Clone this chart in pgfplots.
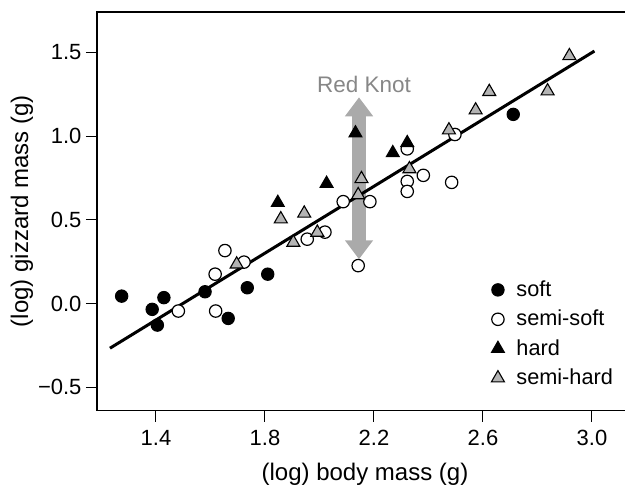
\documentclass[border=0pt]{standalone}
\usepackage{fontspec}
\setmainfont{Liberation Sans}
\usepackage{pgfplots}
\pgfplotsset{compat=1.18}
\usetikzlibrary{arrows.meta}
\definecolor{semihard}{RGB}{180,180,180}
\definecolor{knotarrow}{RGB}{170,170,170}
\definecolor{knottext}{RGB}{135,135,135}
\begin{document}
\begin{tikzpicture}
\useasboundingbox (0,0) rectangle (625bp,486bp);
\begin{axis}[
  at={(97bp,75.3bp)}, anchor=south west,
  scale only axis, width=536bp, height=399bp,
  xmin=1.1835, xmax=3.1505, ymin=-0.639, ymax=1.743,
  axis line style={line width=1.4bp},
  xtick={1.4,1.8,2.2,2.6,3.0}, xticklabels={1.4,1.8,2.2,2.6,3.0},
  ytick={-0.5,0,0.5,1,1.5}, yticklabels={−0.5,0.0,0.5,1.0,1.5},
  tick align=outside, xtick pos=bottom, ytick pos=left,
  major tick length=11bp,
  tick style={line width=1bp, black},
  ticklabel style={font=\fontsize{22bp}{26bp}\selectfont},
  xticklabel style={yshift=-5bp},
  yticklabel style={xshift=-1bp},
  xlabel={(log) body mass (g)}, ylabel={(log) gizzard mass (g)},
  label style={font=\fontsize{24bp}{28bp}\selectfont},
  xlabel style={at={(axis description cs:0.5,-0.1587)}, anchor=center},
  ylabel style={at={(axis description cs:-0.1399,0.5)}, anchor=center},
  legend style={draw=none, fill=none, at={(axis cs:2.631,0.170)}, anchor=north west,
    inner sep=0pt, outer sep=0pt, row sep=0pt, column sep=12bp,
    font=\fontsize{21.7bp}{26bp}\selectfont,
    nodes={inner sep=0pt, text height=21.2bp, text depth=8.2bp}},
  legend cell align=left,
  legend image code/.code={\draw[#1] plot coordinates {(0bp,0bp)};},
]
% Red Knot arrow
\addplot[knotarrow, line width=14bp, mark=none, forget plot,
  {Triangle[width=27bp,length=19bp]}-{Triangle[width=27bp,length=19bp]}]
  coordinates {(2.145,0.265) (2.145,1.232)};
% regression line
\addplot[black, line width=3bp, mark=none, forget plot]
  coordinates {(1.231,-0.266) (3.009,1.508)};
% soft
\addplot[only marks, mark=*, mark size=6.2bp, mark options={fill=black, draw=black, line width=1bp}]
  coordinates {(1.274,0.045) (1.386,-0.034) (1.429,0.036) (1.405,-0.128) (1.580,0.071)
  (1.665,-0.088) (1.735,0.095) (1.810,0.176) (2.711,1.130)};
\addlegendentry{soft}
% semi-soft
\addplot[only marks, mark=*, mark size=6.2bp, mark options={fill=white, draw=black, line width=1.2bp}]
  coordinates {(1.482,-0.044) (1.617,0.176) (1.653,0.317) (1.619,-0.044) (1.723,0.248)
  (1.955,0.385) (2.020,0.427) (2.087,0.609) (2.142,0.227) (2.185,0.609)
  (2.322,0.924) (2.322,0.730) (2.322,0.670) (2.381,0.766) (2.485,0.724) (2.497,1.010)};
\addlegendentry{semi-soft}
% hard
\addplot[only marks, mark=triangle*, mark size=7.5bp, mark options={fill=black, draw=black, line width=1bp}]
  coordinates {(1.847,0.603) (2.026,0.717) (2.132,1.018) (2.269,0.900) (2.322,0.960)};
\addlegendentry{hard}
% semi-hard
\addplot[only marks, mark=triangle*, mark size=7.5bp, mark options={fill=semihard, draw=black, line width=1.1bp}]
  coordinates {(1.696,0.235) (1.858,0.505) (1.944,0.539) (1.904,0.365) (1.992,0.425)
  (2.142,0.649) (2.154,0.745) (2.330,0.804) (2.475,1.036) (2.573,1.155)
  (2.623,1.265) (2.837,1.269) (2.917,1.479)};
\addlegendentry{semi-hard}
\node[text=knottext, font=\fontsize{22.5bp}{26bp}\selectfont, inner sep=0pt] at (axis cs:2.163,1.306) {Red Knot};
\end{axis}
\draw[line width=1.8bp, black] (96.3bp,474.3bp) -- (625bp,474.3bp);
\end{tikzpicture}
\end{document}
